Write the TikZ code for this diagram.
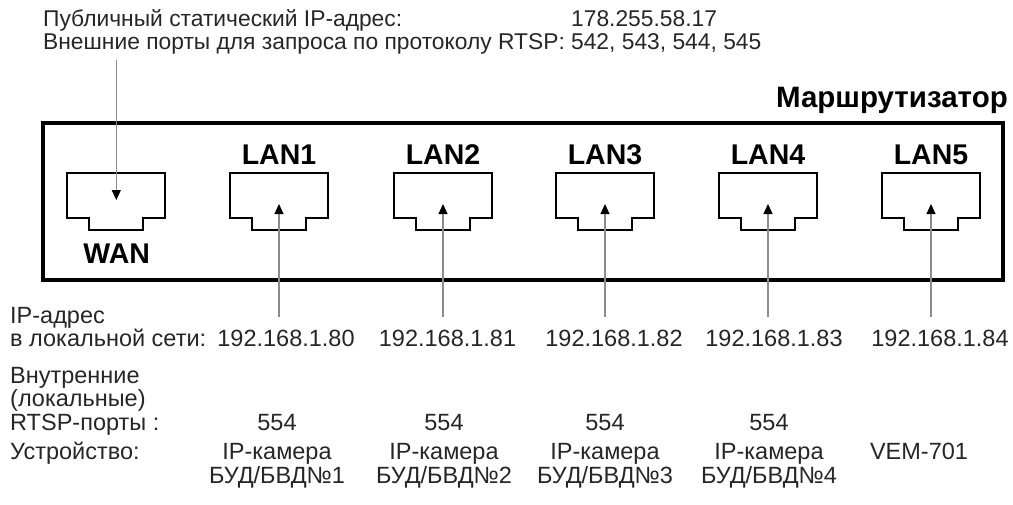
\documentclass[tikz,border=0pt]{standalone}
\usepackage{fontspec}
\setmainfont{Liberation Sans}
\usetikzlibrary{arrows.meta}

% one socket: name, centre x, y of the arrow tip
\newcommand{\lanport}[3]{%
\draw[line width=2pt] (#2-49,173) -- (#2+49,173) -- (#2+49,217.5) -- (#2+27,217.5) -- (#2+27,230) -- (#2-27,230) -- (#2-27,217.5) -- (#2-49,217.5) -- cycle;
\coordinate (#1) at (#2,#3);}

\begin{document}
\begin{tikzpicture}[x=1pt,y=-1pt,
  txt/.style={font=\fontsize{23.5}{23.5}\selectfont,text=black!85,inner sep=0pt,anchor=base},
  toptxt/.style={font=\fontsize{22.8}{22.8}\selectfont,text=black!85,inner sep=0pt,anchor=base west,text height=16pt,text depth=3pt},
  portlbl/.style={font=\fontsize{28.5}{28.5}\selectfont\bfseries,inner sep=0pt,anchor=base},
  wire/.style={black!45,line width=1.1pt,-{Triangle[width=9pt,length=10pt,color=black]}}]
\useasboundingbox (0,0) rectangle (1013,504);
\node[toptxt] (pubip) at (43,26.5) {Публичный статический IP-адрес:};
\node[toptxt] (ipval) at (571,26.5) {178.255.58.17};
\node[toptxt] (extports) at (43,49) {Внешние порты для запроса по протоколу RTSP: 542, 543, 544, 545};
\node[font=\fontsize{29.5}{29.5}\selectfont\bfseries,inner sep=0pt,anchor=base east] (router) at (1008,107) {Маршрутизатор};
\draw[line width=4pt] (42.7,123) rectangle (1003,280);
\lanport{wan}{116.3}{200}
\node[portlbl] (wanlbl) at (116.7,263.3) {WAN};
\coordinate (wantop) at (116.3,60);
\draw[wire] (wantop) -- (wan);
\foreach \n/\x in {1/279,2/443,3/605,4/768,5/931}{
\lanport{lan\n}{\x}{204}
\node[portlbl] (lbl\n) at (\x,164) {LAN\n};
\coordinate (end\n) at (\x,317);
\draw[wire] (end\n) -- (lan\n);
}
\node[txt,anchor=base west] (iplbl1) at (10,323) {IP-адрес};
\node[txt,anchor=base west] (iplbl2) at (10,346) {в локальной сети:};
\node[txt,anchor=base west] (rtsplbl1) at (10,383) {Внутренние};
\node[txt,anchor=base west] (rtsplbl2) at (10,406) {(локальные)};
\node[txt,anchor=base west] (rtsplbl3) at (10,430) {RTSP-порты :};
\node[txt,anchor=base west] (devlbl) at (10,459) {Устройство:};
\foreach \n/\x in {0/286,1/447.5,2/614,3/774,4/940}
\node[txt] (ip\n) at (\x,346) {192.168.1.8\n};
\foreach \n/\x in {1/277,2/444,3/605,4/769}{
\node[txt] (rtsp\n) at (\x,430) {554};
\node[txt] (cam\n) at (\x,459) {IP-камера};
\node[txt] (bud\n) at (\x,483) {БУД/БВД№\n};
}
\node[txt] (vem) at (919,459) {VEM-701};
\end{tikzpicture}
\end{document}
